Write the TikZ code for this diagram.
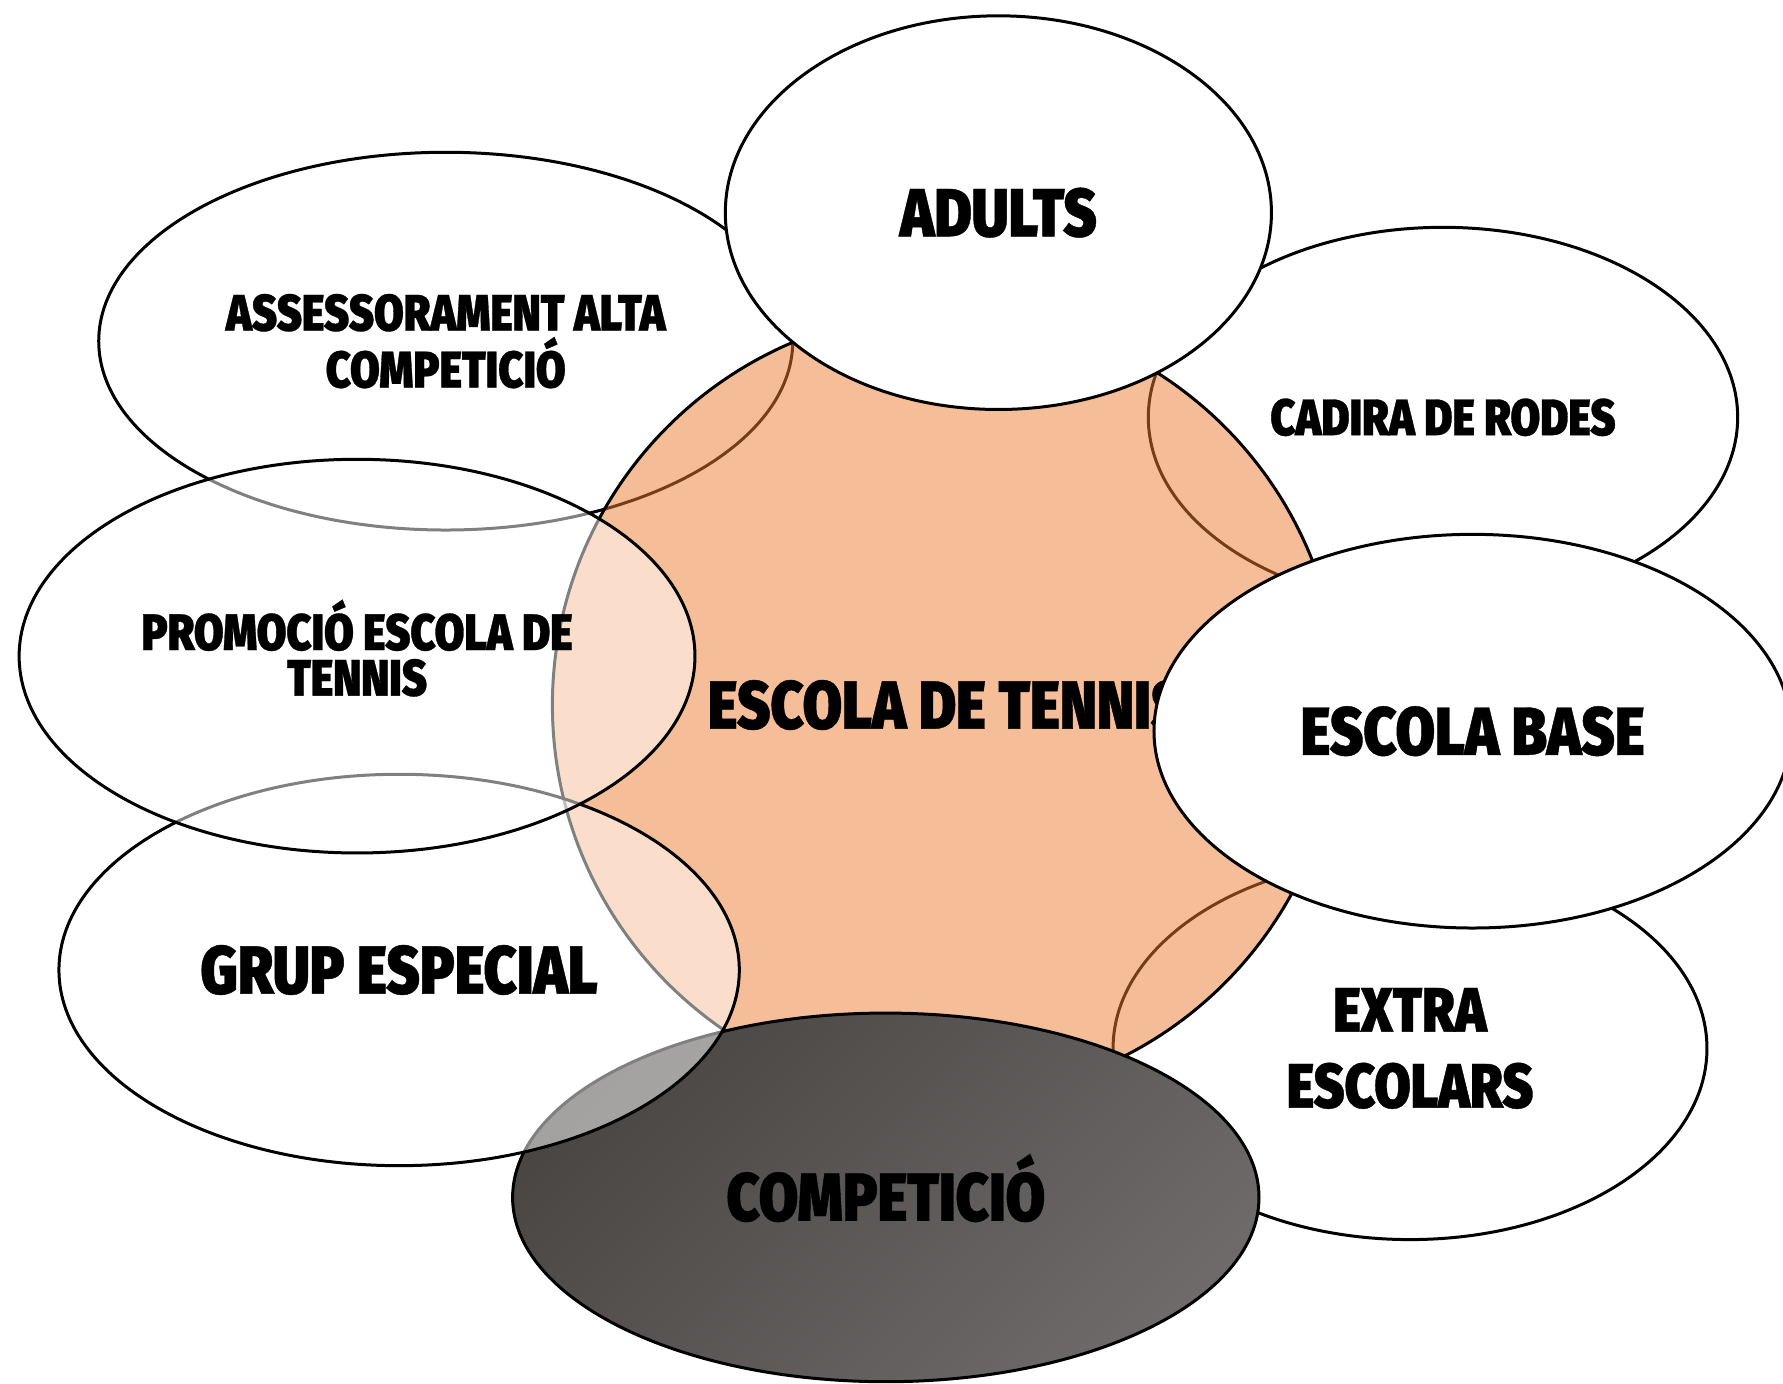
\documentclass[tikz,border=0pt]{standalone}
\usepackage{fontspec}
\usepackage{tikz}
\usetikzlibrary{shapes.geometric,positioning}
\newfontfamily\bubblefont{Fira Sans Black}[FakeStretch=0.84,FakeBold=0.6]
\definecolor{tennisorange}{HTML}{ED7D31}
\definecolor{compdark}{HTML}{4A4644}
\definecolor{complight}{HTML}{6E6A69}

\begin{document}
\begin{tikzpicture}[x=0.01cm,y=-0.01cm,
  bubble/.style={ellipse,draw,line width=0.75pt,fill=white,inner sep=0pt,align=center,text opacity=1,font=\bubblefont\fontsize{17}{20}\selectfont},
  glass/.style={bubble,fill opacity=0.5,text opacity=1},
  smalltxt/.style={font=\bubblefont\fontsize{12.8}{14.2}\selectfont}]
\useasboundingbox (0,0) rectangle (1568,1217);
\node[bubble,smalltxt,minimum width=6.10cm,minimum height=3.32cm] (assess) at (392,300) {ASSESSORAMENT ALTA\\COMPETICIÓ};
\node[bubble,smalltxt,minimum width=5.18cm,minimum height=3.34cm] (cadira) at (1269,367) {CADIRA DE RODES};
\node[bubble,font=\bubblefont\fontsize{15.7}{19}\selectfont,minimum width=5.22cm,minimum height=3.36cm] (extra) at (1240,922) {EXTRA\\ESCOLARS};
\node[glass,fill=tennisorange,minimum width=6.92cm,minimum height=6.92cm] (escola) at (832,620) {ESCOLA DE TENNIS};
\node[bubble,shading=axis,top color=compdark,bottom color=complight,shading angle=45,text height=11.7pt,text depth=0pt,minimum width=6.56cm,minimum height=3.24cm] (compet) at (779,1053) {COMPETICIÓ};
\node[glass,minimum width=5.98cm,minimum height=3.44cm] (grup) at (351,853) {GRUP ESPECIAL};
\node[glass,font=\bubblefont\fontsize{12.8}{11.4}\selectfont,text height=20pt,minimum width=5.94cm,minimum height=3.46cm] (promo) at (314,577) {PROMOCIÓ ESCOLA DE\\TENNIS};
\node[bubble,minimum width=4.80cm,minimum height=3.46cm] (adults) at (878,187) {ADULTS};
\node[bubble,minimum width=5.60cm,minimum height=3.46cm] (base) at (1295,643) {ESCOLA BASE};
\end{tikzpicture}
\end{document}
